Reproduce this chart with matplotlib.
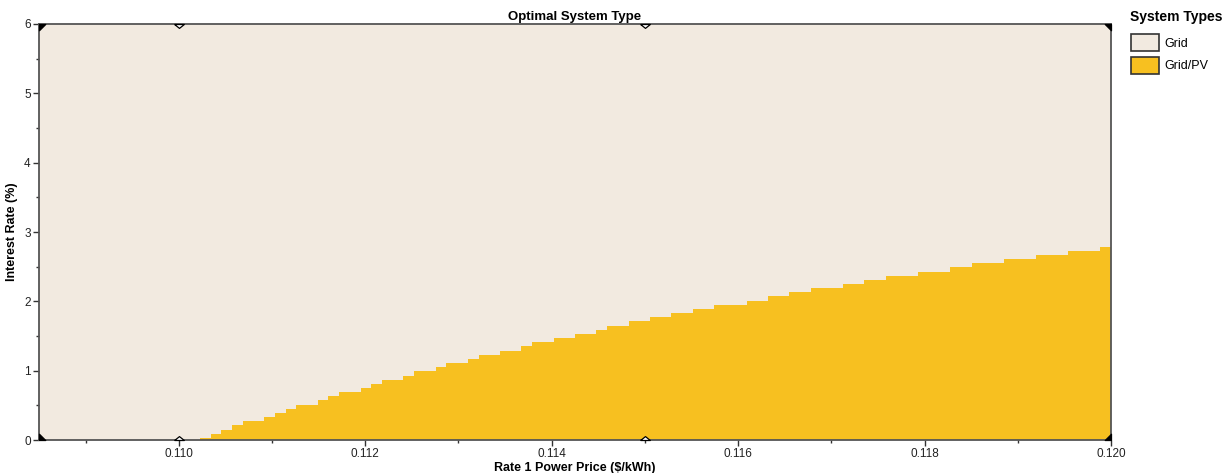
import matplotlib
matplotlib.use("Agg")
import matplotlib.pyplot as plt
import numpy as np
from matplotlib.patches import Patch
from matplotlib.ticker import MultipleLocator

plt.rcParams["font.family"] = ["Liberation Sans", "DejaVu Sans"]

# sensitivity grid: rate 1 power price ($/kWh) vs interest rate (%)
price_min, price_max = 0.1085, 0.120
rate_min, rate_max = 0.0, 6.0

# highest interest rate (%) at which Grid/PV wins, one value per price column
pv_boundary = [
    0, 0, 0, 0, 0, 0, 0, 0, 0, 0, 0, 0, 0, 0, 0,
    0.03, 0.09, 0.15, 0.21, 0.27, 0.27, 0.33, 0.39, 0.45, 0.51,
    0.51, 0.57, 0.63, 0.69, 0.69, 0.75, 0.81, 0.87, 0.87, 0.93,
    0.99, 0.99, 1.05, 1.11, 1.11, 1.17, 1.23, 1.23, 1.29, 1.29,
    1.35, 1.41, 1.41, 1.47, 1.47, 1.53, 1.53, 1.59, 1.65, 1.65,
    1.71, 1.71, 1.77, 1.77, 1.83, 1.83, 1.89, 1.89, 1.95, 1.95,
    1.95, 2.01, 2.01, 2.07, 2.07, 2.13, 2.13, 2.19, 2.19, 2.19,
    2.25, 2.25, 2.31, 2.31, 2.37, 2.37, 2.37, 2.43, 2.43, 2.43,
    2.49, 2.49, 2.55, 2.55, 2.55, 2.61, 2.61, 2.61, 2.67, 2.67,
    2.67, 2.73, 2.73, 2.73, 2.79,
]

# simulated sensitivity cases
sens_prices = [0.1085, 0.110, 0.115, 0.120]
sens_rates = [0, 6]

x_ticks = [0.110, 0.112, 0.114, 0.116, 0.118, 0.120]
y_ticks = [0, 1, 2, 3, 4, 5, 6]

system_types = ["Grid", "Grid/PV"]
type_colors = ["#F2EAE0", "#F7C020"]

W, H = 1224, 473
fig = plt.figure(figsize=(W / 100, H / 100), dpi=100)
ax = fig.add_axes([39 / W, 1 - 440 / H, (1111 - 39) / W, (440 - 24) / H])

price_edges = np.linspace(price_min, price_max, len(pv_boundary) + 1)
ax.set_facecolor(type_colors[0])
ax.stairs(pv_boundary, price_edges, baseline=0, fill=True,
          color=type_colors[1], lw=0)

ax.set_xlim(price_min, price_max)
ax.set_ylim(rate_min, rate_max)


def case_marker(px, ry):
    # small triangle pointing into the plot from the frame
    sy = 1 if ry == rate_min else -1
    if px == price_min:
        return [(0, 0), (1, 0), (0, sy), (0, 0)], "black", 9
    if px == price_max:
        return [(0, 0), (-1, 0), (0, sy), (0, 0)], "black", 9
    return [(-1, 0), (1, 0), (0, 0.8 * sy), (-1, 0)], "white", 7


for px in sens_prices:
    for ry in sens_rates:
        verts, face, size = case_marker(px, ry)
        ax.plot(px, ry, marker=verts, ms=size, mfc=face,
                mec="black", mew=0.9, clip_on=False, zorder=5)

ax.set_xticks(x_ticks)
ax.set_xticklabels([f"{v:.3f}" for v in x_ticks])
ax.set_yticks(y_ticks)
ax.xaxis.set_minor_locator(MultipleLocator(0.001))
ax.yaxis.set_minor_locator(MultipleLocator(0.5))
ax.tick_params(which="major", length=4, width=1, color="#333333",
               labelsize=8.5, labelcolor="#222222", pad=2)
ax.tick_params(which="minor", length=2.5, width=1, color="#333333")

for side in ["top", "right", "bottom", "left"]:
    ax.spines[side].set_color("#555555")
    ax.spines[side].set_linewidth(1.3)

ax.set_title("Optimal System Type", fontsize=9.5, fontweight="bold", pad=3)
ax.set_xlabel("Rate 1 Power Price ($/kWh)", fontsize=9, fontweight="bold",
              labelpad=1)
ax.set_ylabel("Interest Rate (%)", fontsize=9, fontweight="bold", labelpad=4)

handles = [Patch(facecolor=c, edgecolor="#333333", lw=1.2) for c in type_colors]
leg = fig.legend(handles, system_types, loc="upper left",
                 bbox_to_anchor=(1128 / W, 1 - 8 / H), frameon=False,
                 fontsize=9, title="System Types", alignment="left",
                 handlelength=2.3, handleheight=1.7, handletextpad=0.4,
                 labelspacing=0.45, borderaxespad=0, borderpad=0.2)
leg.get_title().set_fontweight("bold")
leg.get_title().set_fontsize(10)
leg._legend_box.sep = 7

fig.savefig("out.png", dpi=100)
